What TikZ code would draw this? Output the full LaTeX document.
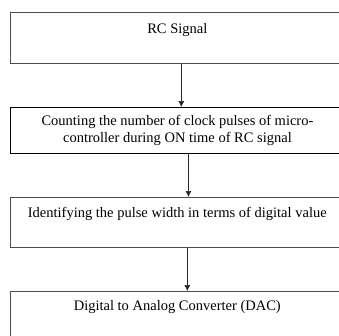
\documentclass[tikz,border=0pt]{standalone}
\usepackage{fontspec}
\setmainfont{Liberation Serif}
\usetikzlibrary{positioning,calc,arrows.meta}
\tikzset{>={Latex[length=6pt,width=6pt]}}

\begin{document}
\begin{tikzpicture}[font=\fontsize{14.5pt}{17pt}\selectfont]

    \def\xLeft{10pt}
    \def\yRC{-12pt}
    \def\yCount{-107pt}
    \def\yIdent{-197pt}
    \def\yDAC{-291pt}

    \def\widthFull{334pt}

    \tikzset{
        stage/.style={draw=black!70,line width=0.6pt,inner xsep=0pt,inner ysep=0pt,
            minimum width=\widthFull,anchor=north west},
        flow/.style={->,draw=black!85,line width=0.6pt}
    }

    % page, boxes run off the right edge
    \clip (0,0) rectangle (339pt,-335pt);

    \node
        [stage,text height=21pt,text depth=30pt]
        at (\xLeft,\yRC)
        (rc) {RC Signal};
    \node
        [stage,draw=black,line width=0.9pt,minimum height=46pt,align=center]
        at (\xLeft,\yCount)
        (count) {Counting the number of clock pulses of micro-\\
            controller during ON time of RC signal};
    \node
        [stage,text height=20pt,text depth=30pt]
        at (\xLeft,\yIdent)
        (ident) {Identifying the pulse width in terms of digital value};
    \node
        [stage,text height=19pt,text depth=60pt]
        at (\xLeft,\yDAC)
        (dac) {Digital to Analog Converter (DAC)};

    \draw[flow] ([xshift=4pt]rc.south) -- ([xshift=4pt]rc.south |- count.north);
    \draw[flow] ([xshift=11pt]count.south) -- ([xshift=11pt]count.south |- ident.north);
    \draw[flow] ([xshift=10pt]ident.south) -- ([xshift=10pt]ident.south |- dac.north);

\end{tikzpicture}
\end{document}
